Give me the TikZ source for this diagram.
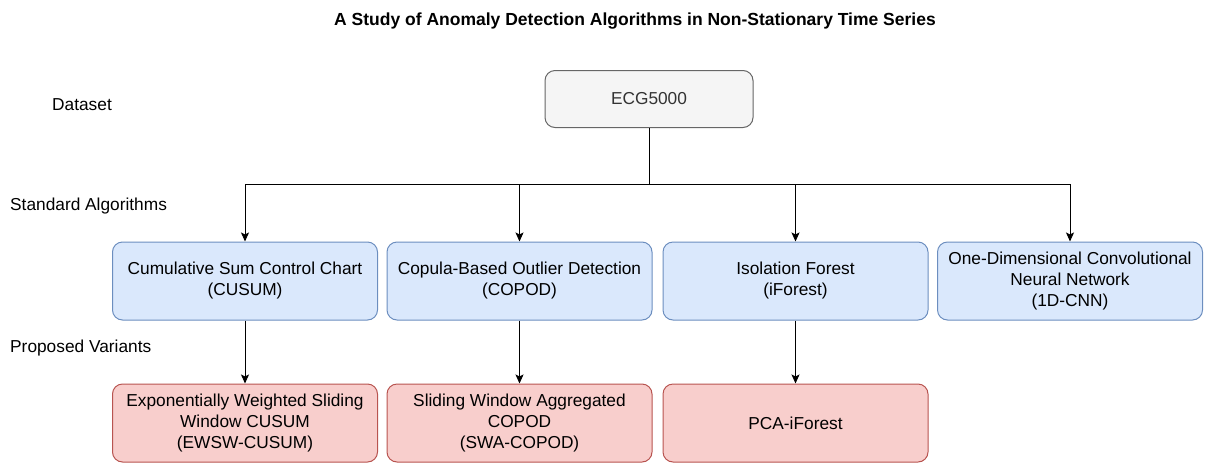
\documentclass[tikz,border=0pt]{standalone}
\usepackage{fontspec}
\setmainfont{Liberation Sans}
\usetikzlibrary{arrows.meta}
\definecolor{grayfill}{HTML}{F5F5F5}
\definecolor{graystroke}{HTML}{666666}
\definecolor{graytext}{HTML}{333333}
\definecolor{bluefill}{HTML}{DAE8FC}
\definecolor{bluestroke}{HTML}{6C8EBF}
\definecolor{redfill}{HTML}{F8CECC}
\definecolor{redstroke}{HTML}{B85450}
\tikzset{
  box/.style={rounded corners=10pt, line width=1pt, align=center, anchor=center,
    font=\fontsize{17.3}{21}\selectfont, inner sep=0pt},
  stdbox/.style={box, fill=bluefill, draw=bluestroke, minimum width=265pt, minimum height=78pt},
  varbox/.style={box, fill=redfill, draw=redstroke, minimum width=265pt, minimum height=78pt},
  databox/.style={box, fill=grayfill, draw=graystroke, text=graytext, minimum width=208pt, minimum height=57pt},
  lbl/.style={font=\fontsize{17.3}{21}\selectfont, anchor=west, inner sep=0pt},
  conn/.style={line width=1pt, draw=black},
  arr/.style={conn, -{Stealth[length=9pt,width=8pt,inset=2pt]}}
}
\begin{document}
\begin{tikzpicture}[x=1pt,y=-1pt]
\useasboundingbox (0,0) rectangle (1207,464);
\node[font=\bfseries\fontsize{17.5}{20}\selectfont, inner sep=0pt] (title) at (635,21) {A Study of Anomaly Detection Algorithms in Non-Stationary Time Series};
\node[lbl] (l1) at (52,105) {Dataset};
\node[lbl] (l2) at (10,206) {Standard Algorithms};
\node[lbl] (l3) at (10,348) {Proposed Variants};
\node[databox] (ecg) at (649,99) {ECG5000};
\node[stdbox] (a1) at (245,281) {Cumulative Sum Control Chart\\(CUSUM)};
\node[stdbox] (a2) at (519.5,281) {Copula-Based Outlier Detection\\(COPOD)};
\node[stdbox] (a3) at (795.5,281) {Isolation Forest\\(iForest)};
\node[stdbox] (a4) at (1070,281) {One-Dimensional Convolutional\\Neural Network\\(1D-CNN)};
\node[varbox] (v1) at (245,423) {Exponentially Weighted Sliding\\Window CUSUM\\(EWSW-CUSUM)};
\node[varbox] (v2) at (519.5,423) {Sliding Window Aggregated\\COPOD\\(SWA-COPOD)};
\node[varbox] (v3) at (795.5,423) {PCA-iForest};
\coordinate (j) at (649,184);
\draw[conn] (ecg.south) -- (j);
\draw[arr] (j) -| (a1.north);
\draw[arr] (j) -| (a2.north);
\draw[arr] (j) -| (a3.north);
\draw[arr] (j) -| (a4.north);
\draw[arr] (a1.south) -- (v1.north);
\draw[arr] (a2.south) -- (v2.north);
\draw[arr] (a3.south) -- (v3.north);
\end{tikzpicture}
\end{document}
